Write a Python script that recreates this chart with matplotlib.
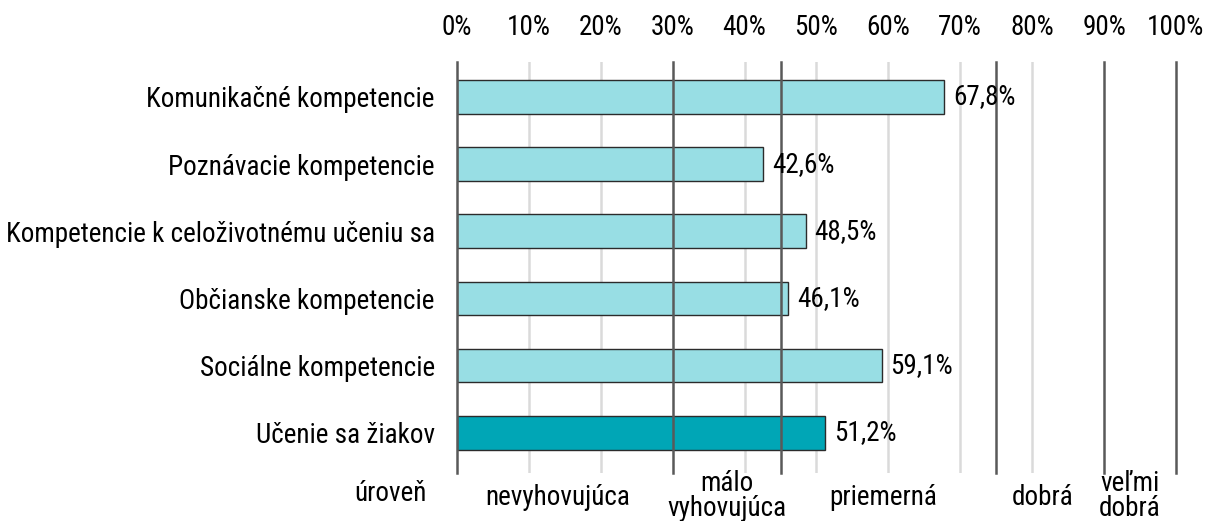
import matplotlib
matplotlib.use('Agg')
import matplotlib.pyplot as plt
import matplotlib.transforms as mtransforms

plt.rcParams['font.family'] = ['Roboto Condensed', 'Roboto', 'DejaVu Sans']

categories = ['Komunikačné kompetencie', 'Poznávacie kompetencie',
              'Kompetencie k celoživotnému učeniu sa', 'Občianske kompetencie',
              'Sociálne kompetencie', 'Učenie sa žiakov']
values = [67.8, 42.6, 48.5, 46.1, 59.1, 51.2]
value_labels = ['67,8%', '42,6%', '48,5%', '46,1%', '59,1%', '51,2%']
bar_colors = ['#98DEE4'] * 5 + ['#00A6B6']

ticks = [0, 10, 20, 30, 40, 50, 60, 70, 80, 90, 100]
tick_labels = [f'{t}%' for t in ticks]
level_bounds = [0, 30, 45, 75, 90, 100]
level_names = ['nevyhovujúca', 'málo\nvyhovujúca', 'priemerná', 'dobrá', 'veľmi\ndobrá']
level_pos = [14, 37.5, 59.3, 81.5, 93.6]

fs = 19.5

fig = plt.figure(figsize=(12.07, 5.21), dpi=100)
ax = fig.add_axes([0.3786, 0.092, 0.5957, 0.789])

y = list(range(len(categories)))

# light grid under the bars, level boundaries on top
for t in ticks:
    if t not in level_bounds:
        ax.axvline(t, color='#DADADA', lw=1.8, zorder=1)
for b in level_bounds:
    ax.axvline(b, color='#595959', lw=1.8, zorder=3, clip_on=False)

ax.barh(y, values, height=0.5, color=bar_colors, edgecolor='#2b2b2b',
        linewidth=1.0, zorder=2)

for yi, v, lab in zip(y, values, value_labels):
    ax.text(v + 1.2, yi, lab, va='center', ha='left', fontsize=fs, zorder=4)

ax.set_xlim(0, 100)
ax.set_ylim(5.6, -0.52)
ax.set_yticks(y)
ax.set_yticklabels(categories, fontsize=fs)
ax.xaxis.tick_top()
ax.set_xticks(ticks)
ax.set_xticklabels(tick_labels, fontsize=fs)
ax.tick_params(axis='both', length=0)
ax.tick_params(axis='x', pad=15)
ax.tick_params(axis='y', pad=16)
for s in ax.spines.values():
    s.set_visible(False)

trans = mtransforms.blended_transform_factory(ax.transData, ax.transAxes)
ax.text(-4.2, -0.05, 'úroveň', transform=trans, ha='right', va='center', fontsize=fs)
for p, name in zip(level_pos, level_names):
    n_lines = name.count('\n') + 1
    yy = -0.055 if n_lines > 1 else -0.06
    ax.text(p, yy, name, transform=trans, ha='center', va='center', fontsize=fs,
            linespacing=0.92)

fig.savefig('out.png', dpi=100)
